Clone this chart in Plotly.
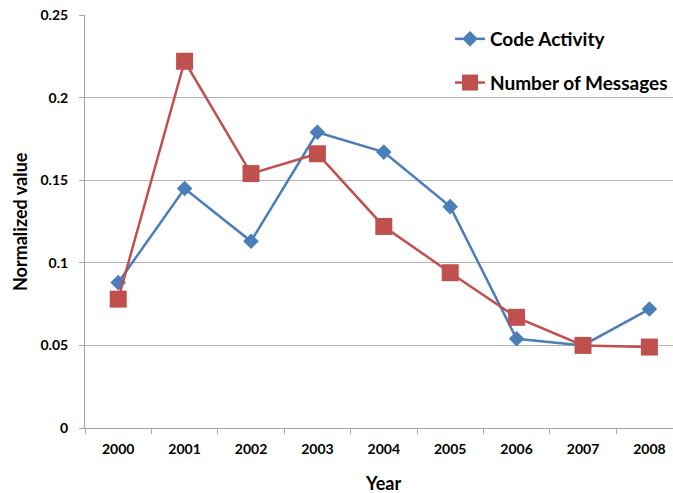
import plotly.graph_objects as go

years = ["2000", "2001", "2002", "2003", "2004", "2005", "2006", "2007", "2008"]
code_activity = [0.088, 0.145, 0.113, 0.179, 0.167, 0.134, 0.054, 0.050, 0.072]
num_messages = [0.078, 0.222, 0.154, 0.166, 0.122, 0.094, 0.067, 0.050, 0.049]
y_ticks = [0, 0.05, 0.1, 0.15, 0.2, 0.25]
y_tick_text = ["0", "0.05", "0.1", "0.15", "0.2", "0.25"]

BLUE = "#4A7EBB"
RED = "#C0504D"
FONT = "Lato"

W, H = 673, 493
L, R, T, B = 85, 0, 15, 65
pw = W - L - R
ph = H - T - B

fig = go.Figure()
fig.add_trace(go.Scatter(
    x=years, y=code_activity, name="Code Activity", mode="lines+markers",
    line=dict(color=BLUE, width=2.5),
    marker=dict(symbol="diamond", size=12, color=BLUE),
    legendgroup="a",
))
fig.add_trace(go.Scatter(
    x=years, y=num_messages, name="Number of Messages", mode="lines+markers",
    line=dict(color=RED, width=2.5),
    marker=dict(symbol="square", size=17, color=RED),
    legendgroup="b",
))

# category spacing ~66.4 px; plot area cut by right edge
span = pw / 66.4
fig.update_layout(
    width=W, height=H,
    margin=dict(l=L, r=R, t=T, b=B, pad=0),
    paper_bgcolor="white", plot_bgcolor="white",
    font=dict(family=FONT, color="black"),
    showlegend=True,
    legend=dict(
        x=(450 - L) / pw, y=1 - (20 - T) / ph, xanchor="left", yanchor="top",
        font=dict(family=FONT, size=19, weight="bold", color="black"),
        bgcolor="rgba(255,255,255,0)", tracegroupgap=16,
        itemwidth=30,
    ),
    xaxis=dict(
        type="category", range=[-0.5, -0.5 + span],
        showline=True, linecolor="#a6a6a6", linewidth=1,
        ticks="outside", ticklen=5, tickcolor="#a6a6a6", tickson="boundaries",
        showgrid=False, zeroline=False,
        tickfont=dict(family=FONT, size=14, weight="bold", color="black"),
        ticklabelstandoff=8,
    ),
    yaxis=dict(
        range=[0, 0.25], tickvals=y_ticks, ticktext=y_tick_text,
        showline=True, linecolor="#a6a6a6", linewidth=1,
        ticks="outside", ticklen=5, tickcolor="#a6a6a6",
        showgrid=True, gridcolor="#b3b3b3", gridwidth=1, zeroline=False,
        tickfont=dict(family=FONT, size=14, weight="bold", color="black"),
        ticklabelstandoff=8,
    ),
    annotations=[
        dict(
            text="Year", x=(383 - L) / pw, y=-(483 - (H - B)) / ph,
            xref="paper", yref="paper", xanchor="center", yanchor="middle",
            showarrow=False, font=dict(family=FONT, size=18, weight="bold", color="black"),
        ),
        dict(
            text="Normalized value", x=-(L - 20) / pw, y=1 - (222 - T) / ph,
            xref="paper", yref="paper", xanchor="center", yanchor="middle",
            textangle=-90,
            showarrow=False, font=dict(family=FONT, size=18, weight="bold", color="black"),
        ),
    ],
)

fig.write_html("out.html")
